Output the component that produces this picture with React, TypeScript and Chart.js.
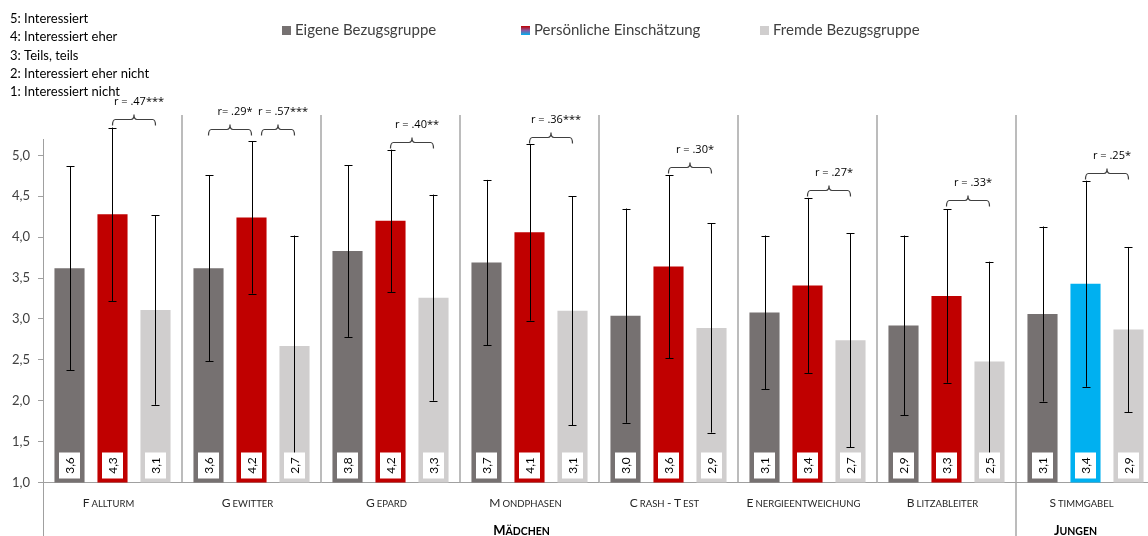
import { useEffect, useRef } from 'react';
import { Chart, registerables } from 'chart.js';

Chart.register(...registerables);

const FONT = 'Lato, "Open Sans", sans-serif';
const FONT_R = '"Open Sans", Lato, sans-serif';

const categories = ['Fallturm', 'Gewitter', 'Gepard', 'Mondphasen', 'Crash - Test', 'Energieentweichung', 'Blitzableiter', 'Stimmgabel'];
const seriesNames = ['Eigene Bezugsgruppe', 'Persönliche Einschätzung', 'Fremde Bezugsgruppe'];

const eigeneMean = [3.62, 3.62, 3.83, 3.69, 3.04, 3.08, 2.92, 3.06];
const eigeneSD = [1.25, 1.14, 1.05, 1.01, 1.31, 0.94, 1.10, 1.07];
const persMean = [4.28, 4.24, 4.20, 4.06, 3.64, 3.41, 3.28, 3.43];
const persSD = [1.06, 0.93, 0.87, 1.08, 1.12, 1.07, 1.06, 1.26];
const fremdeMean = [3.11, 2.67, 3.26, 3.10, 2.89, 2.74, 2.48, 2.87];
const fremdeSD = [1.16, 1.35, 1.26, 1.40, 1.28, 1.31, 1.22, 1.01];

const scaleNotes = ['5: Interessiert', '4: Interessiert eher', '3: Teils, teils', '2: Interessiert eher nicht', '1: Interessiert nicht'];

const bracketCategory = [0, 1, 1, 2, 3, 4, 5, 6, 7];
const bracketFrom = [1, 0, 1, 1, 1, 1, 1, 1, 1];
const bracketTo = [2, 1, 2, 2, 2, 2, 2, 2, 2];
const bracketLevel = [5.44, 5.32, 5.32, 5.16, 5.22, 4.86, 4.58, 4.45, 4.78];
const bracketLabel = ['r = .47***', 'r= .29*', 'r = .57***', 'r = .40**', 'r = .36***', 'r = .30*', 'r = .27*', 'r = .33*', 'r = .25*'];

const groupNames = ['Mädchen', 'Jungen'];
const groupStart = [0, 7];
const groupEnd = [6, 7];

const COLOR_DARK = '#767171';
const COLOR_RED = '#C00000';
const COLOR_BLUE = '#00B0F0';
const COLOR_LIGHT = '#D0CECE';
const persColors = categories.map((_, i) => (i === 7 ? COLOR_BLUE : COLOR_RED));

function drawSmallCaps(ctx: CanvasRenderingContext2D, text: string, cx: number, baseline: number, big: number, small: number, bold: boolean, color: string, gap: number) {
  const pieces: { t: string; size: number; gapBefore: number }[] = [];
  text.split(' ').forEach((w, wi) => {
    if (wi > 0) pieces.push({ t: ' ', size: small, gapBefore: 0 });
    pieces.push({ t: w[0].toUpperCase(), size: big, gapBefore: 0 });
    if (w.length > 1) pieces.push({ t: w.slice(1).toUpperCase(), size: small, gapBefore: gap });
  });
  const weight = bold ? 'bold ' : '';
  let total = 0;
  const widths = pieces.map((p) => {
    ctx.font = `${weight}${p.size}px ${FONT}`;
    const w = ctx.measureText(p.t).width + p.gapBefore;
    total += w;
    return w;
  });
  let x = cx - total / 2;
  ctx.fillStyle = color;
  ctx.textAlign = 'left';
  ctx.textBaseline = 'alphabetic';
  pieces.forEach((p, i) => {
    ctx.font = `${weight}${p.size}px ${FONT}`;
    ctx.fillText(p.t, x + p.gapBefore, baseline);
    x += widths[i];
  });
}

const overlayPlugin = {
  id: 'overlay',
  afterDatasetsDraw(chart: any) {
    const ctx: CanvasRenderingContext2D = chart.ctx;
    const yScale = chart.scales.y;
    const means = [eigeneMean, persMean, fremdeMean];
    const sds = [eigeneSD, persSD, fremdeSD];
    ctx.save();
    ctx.strokeStyle = '#000';
    ctx.lineWidth = 1;
    for (let d = 0; d < 3; d++) {
      const meta = chart.getDatasetMeta(d);
      meta.data.forEach((bar: any, i: number) => {
        const x = Math.round(bar.x) + 0.5;
        const yTop = yScale.getPixelForValue(means[d][i] + sds[d][i]);
        const yBot = yScale.getPixelForValue(means[d][i] - sds[d][i]);
        ctx.beginPath();
        ctx.moveTo(x, yTop);
        ctx.lineTo(x, yBot);
        ctx.moveTo(x - 4, Math.round(yTop) + 0.5);
        ctx.lineTo(x + 4, Math.round(yTop) + 0.5);
        ctx.moveTo(x - 4, Math.round(yBot) + 0.5);
        ctx.lineTo(x + 4, Math.round(yBot) + 0.5);
        ctx.stroke();
      });
    }
    const bottom = chart.chartArea.bottom;
    for (let d = 0; d < 3; d++) {
      const meta = chart.getDatasetMeta(d);
      meta.data.forEach((bar: any, i: number) => {
        const bx = bar.x;
        ctx.fillStyle = '#fff';
        ctx.fillRect(Math.round(bx - 10.5), bottom - 30, 21, 26);
        ctx.save();
        ctx.translate(bx, bottom - 17);
        ctx.rotate(-Math.PI / 2);
        ctx.fillStyle = '#000';
        ctx.font = `12px ${FONT}`;
        ctx.textAlign = 'center';
        ctx.textBaseline = 'middle';
        ctx.fillText(means[d][i].toFixed(1).replace('.', ','), 0, 1);
        ctx.restore();
      });
    }
    ctx.restore();
  },
  afterDraw(chart: any) {
    const ctx: CanvasRenderingContext2D = chart.ctx;
    const xScale = chart.scales.x;
    const yScale = chart.scales.y;
    const area = chart.chartArea;
    ctx.save();
    ctx.strokeStyle = '#a6a6a6';
    ctx.lineWidth = 1.5;
    for (let k = 1; k < categories.length; k++) {
      const x = (xScale.getPixelForValue(k - 1) + xScale.getPixelForValue(k)) / 2;
      ctx.beginPath();
      ctx.moveTo(x, 115);
      ctx.lineTo(x, k === groupStart[1] ? chart.height : area.bottom);
      ctx.stroke();
    }
    ctx.lineWidth = 1;
    ctx.strokeStyle = '#a0a0a0';
    ctx.beginPath();
    ctx.moveTo(area.left + 0.5, area.bottom);
    ctx.lineTo(area.left + 0.5, chart.height);
    ctx.stroke();

    categories.forEach((c, i) => {
      const cx = xScale.getPixelForValue(i) - 4;
      drawSmallCaps(ctx, c, cx, 507, 12, 9.5, false, '#262626', 2);
    });
    groupNames.forEach((g, gi) => {
      const cx = (xScale.getPixelForValue(groupStart[gi]) + xScale.getPixelForValue(groupEnd[gi])) / 2 - (gi === 0 ? 8 : 10);
      drawSmallCaps(ctx, g, cx, 535, 13, 10.5, true, '#000', 0);
    });

    ctx.strokeStyle = '#404040';
    ctx.lineWidth = 1.2;
    bracketCategory.forEach((ci, b) => {
      const x1bar = chart.getDatasetMeta(bracketFrom[b]).data[ci].x;
      const x2bar = chart.getDatasetMeta(bracketTo[b]).data[ci].x;
      let shift = 0;
      bracketCategory.forEach((cj, o) => {
        if (o !== b && cj === ci && bracketTo[o] === bracketFrom[b]) shift = 10;
      });
      const x1 = x1bar + shift;
      const x2 = x2bar;
      const y = Math.round(yScale.getPixelForValue(bracketLevel[b])) + 0.5;
      const mid = (x1 + x2) / 2;
      ctx.beginPath();
      ctx.moveTo(x1, y + 6);
      ctx.quadraticCurveTo(x1, y, x1 + 3, y);
      ctx.lineTo(mid - 3, y);
      ctx.quadraticCurveTo(mid, y, mid, y - 5);
      ctx.quadraticCurveTo(mid, y, mid + 3, y);
      ctx.lineTo(x2 - 3, y);
      ctx.quadraticCurveTo(x2, y, x2, y + 6);
      ctx.stroke();
      ctx.fillStyle = '#000';
      ctx.font = `11px ${FONT_R}`;
      ctx.textAlign = 'center';
      ctx.textBaseline = 'middle';
      ctx.fillText(bracketLabel[b], mid + 5, y - 18);
    });

    ctx.fillStyle = '#000';
    ctx.font = `13px ${FONT}`;
    ctx.textAlign = 'left';
    ctx.textBaseline = 'middle';
    scaleNotes.forEach((t, i) => {
      ctx.fillText(t, 10, 19 + i * 18.2);
    });

    const legendColors: (string | CanvasGradient)[] = [COLOR_DARK, COLOR_RED, COLOR_LIGHT];
    const grad = ctx.createLinearGradient(0, 26, 0, 35);
    grad.addColorStop(0, COLOR_RED);
    grad.addColorStop(0.5, '#8a5aa0');
    grad.addColorStop(1, COLOR_BLUE);
    legendColors[1] = grad;
    seriesNames.forEach((s, i) => {
      const x = 282 + i * 239;
      ctx.fillStyle = legendColors[i];
      ctx.fillRect(x, 26, 9, 9);
      ctx.fillStyle = '#404040';
      ctx.font = `15px ${FONT}`;
      ctx.textAlign = 'left';
      ctx.textBaseline = 'middle';
      ctx.fillText(s, x + 13, 30.5);
    });
    ctx.restore();
  },
};

export default function App() {
  const ref = useRef<HTMLCanvasElement | null>(null);
  useEffect(() => {
    if (!ref.current) return;
    Chart.defaults.font.family = FONT;
    const chart = new Chart(ref.current, {
      type: 'bar',
      data: {
        labels: categories,
        datasets: [
          { label: seriesNames[0], data: eigeneMean, backgroundColor: COLOR_DARK },
          { label: seriesNames[1], data: persMean, backgroundColor: persColors },
          { label: seriesNames[2], data: fremdeMean, backgroundColor: COLOR_LIGHT },
        ],
      },
      options: {
        responsive: false,
        animation: false,
        layout: { padding: { top: 139, left: 0, right: 5, bottom: 0 } },
        datasets: { bar: { categoryPercentage: 0.928, barPercentage: 0.7 } },
        plugins: { legend: { display: false }, tooltip: { enabled: false } },
        scales: {
          x: {
            grid: { display: false },
            border: { display: true, color: '#a0a0a0', width: 1 },
            ticks: { display: false },
            afterFit: (scale: any) => { scale.height = 53.5; },
          },
          y: {
            min: 1,
            max: 5.2,
            grid: { drawOnChartArea: false, drawTicks: true, tickLength: 5, color: '#a0a0a0' },
            border: { display: true, color: '#a0a0a0', width: 1 },
            ticks: {
              stepSize: 0.5,
              padding: 8,
              color: '#404040',
              font: { size: 13, family: FONT },
              callback: (v: any) => Number(v).toFixed(1).replace('.', ','),
            },
            afterBuildTicks: (scale: any) => {
              scale.ticks = scale.ticks.filter((t: any) => Math.abs(t.value * 2 - Math.round(t.value * 2)) < 1e-6 && t.value <= 5.0001);
            },
            afterFit: (scale: any) => { scale.width = 43; },
          },
        },
      },
      plugins: [overlayPlugin],
    });
    return () => chart.destroy();
  }, []);
  return (
    <div style={{ position: 'fixed', left: 0, top: 0, width: 1148, height: 536, overflow: 'hidden', background: '#fff' }}>
      <canvas ref={ref} width={1160} height={536} style={{ display: 'block' }} />
    </div>
  );
}
